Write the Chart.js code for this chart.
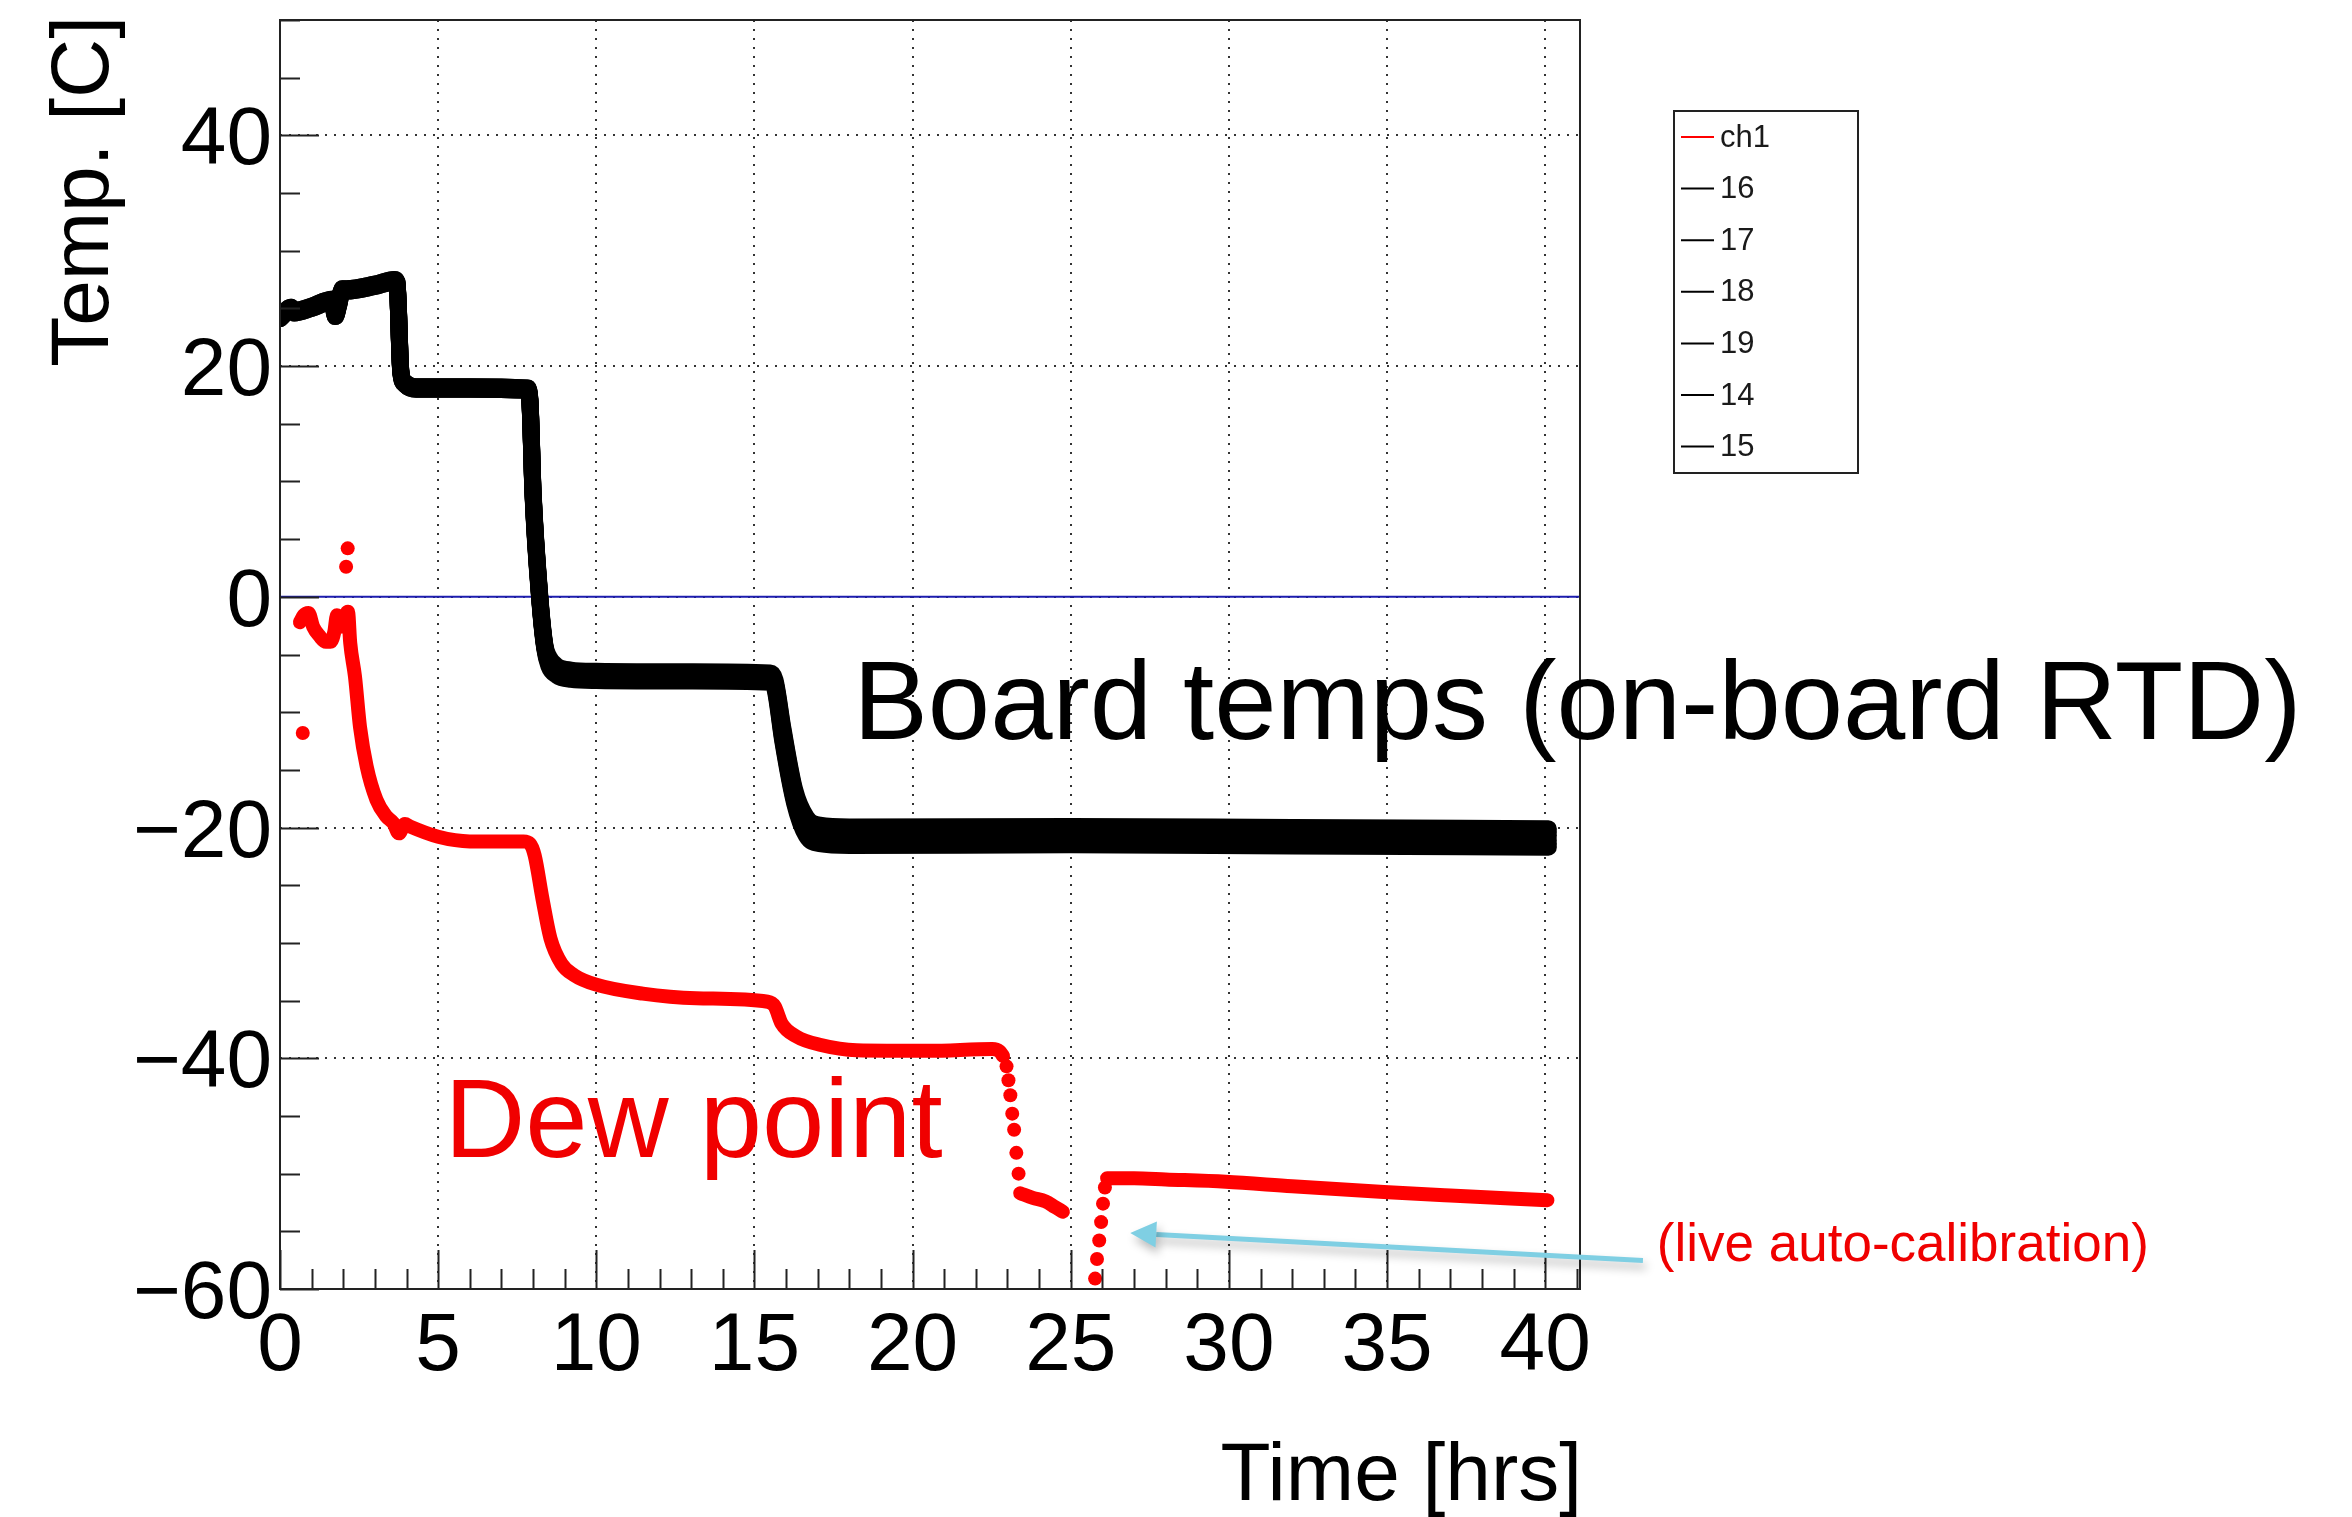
<!DOCTYPE html>
<html>
<head>
<meta charset="utf-8">
<script src="https://cdn.jsdelivr.net/npm/chart.js@4/dist/chart.umd.min.js"></script>
<style>
  html, body { margin: 0; padding: 0; background: #fff; }
  #wrap { width: 2352px; height: 1517px; position: relative; }
</style>
</head>
<body>
<div id="wrap"><canvas id="c"></canvas></div>
<script>
const FONT = '"Liberation Sans", Arial, Helvetica, sans-serif';

// Axis tick values
const xTicks = [0, 5, 10, 15, 20, 25, 30, 35, 40];
const yTicks = [-60, -40, -20, 0, 20, 40];

// Board RTD channels: common sample times [hrs] and readings [C]
const boardTime = [0, 0.35, 0.45, 1.0, 1.65, 1.75, 1.85, 1.97, 2.1, 3.0, 3.62, 3.7, 3.82, 3.95, 4.3, 6.0, 7.82, 7.9, 8.0, 8.21, 8.37, 8.5, 8.75, 9.2, 10.0, 13.0, 15.5, 15.65, 15.9, 16.27, 16.64, 17.06, 18.0, 25.0, 32.0, 40.1];
const ch16 = [24.3, 25.1, 24.8, 25.2, 25.8, 24.5, 25.4, 26.7, 26.7, 27.1, 27.5, 27.3, 19.6, 18.6, 18.2, 18.2, 18.1, 17.1, 9.2, 0.2, -4.1, -5.2, -6.0, -6.35, -6.45, -6.5, -6.6, -7.2, -11.4, -16.7, -19.1, -19.8, -19.95, -19.9, -20.0, -20.1];
const ch17 = [24.3, 25.1, 24.8, 25.2, 25.8, 24.5, 25.4, 26.7, 26.7, 27.1, 27.5, 27.3, 19.6, 18.6, 18.2, 18.2, 18.1, 17.1, 9.1, 0.1, -4.2, -5.4, -6.2, -6.55, -6.65, -6.7, -6.8, -7.4, -11.6, -16.9, -19.4, -20.1, -20.25, -20.2, -20.3, -20.4];
const ch18 = [24.2, 25.0, 24.7, 25.1, 25.7, 24.4, 25.3, 26.6, 26.6, 27.0, 27.4, 27.2, 19.5, 18.5, 18.1, 18.1, 18.0, 17.0, 9.0, 0.0, -4.3, -5.5, -6.3, -6.65, -6.75, -6.8, -6.9, -7.5, -11.9, -17.2, -19.7, -20.4, -20.55, -20.5, -20.6, -20.7];
const ch19 = [24.2, 25.0, 24.7, 25.1, 25.7, 24.4, 25.3, 26.6, 26.6, 27.0, 27.4, 27.2, 19.5, 18.5, 18.1, 18.1, 18.0, 17.0, 9.0, 0.0, -4.3, -5.7, -6.5, -6.85, -6.95, -7.0, -7.1, -7.7, -12.1, -17.4, -20.1, -20.8, -20.95, -20.9, -21.0, -21.1];
const ch14 = [24.1, 24.9, 24.6, 25.0, 25.6, 24.3, 25.2, 26.5, 26.5, 26.9, 27.3, 27.1, 19.4, 18.4, 18.0, 18.0, 17.9, 16.9, 8.9, -0.1, -4.4, -5.8, -6.6, -6.95, -7.05, -7.1, -7.2, -7.8, -12.4, -17.7, -20.4, -21.1, -21.25, -21.2, -21.3, -21.4];
const ch15 = [24.1, 24.9, 24.6, 25.0, 25.6, 24.3, 25.2, 26.5, 26.5, 26.9, 27.3, 27.1, 19.4, 18.4, 18.0, 18.0, 17.9, 16.9, 8.8, -0.2, -4.5, -6.0, -6.8, -7.15, -7.25, -7.3, -7.4, -8.0, -12.6, -17.9, -20.7, -21.4, -21.55, -21.5, -21.6, -21.7];
const boardNames = ['16', '17', '18', '19', '14', '15'];
const boardSeries = [ch16, ch17, ch18, ch19, ch14, ch15];

// Dew point (ch1) continuous trace; null = logging gap
const dewTime = [0.63, 0.75, 0.9, 1.05, 1.25, 1.45, 1.6, 1.72, 1.8, 1.9, 2.0, 2.15, 2.22, 2.37, 2.53, 2.74, 3.05, 3.35, 3.58, 3.76, 3.95, 4.1, 5.0, 6.0, 7.7, 7.9, 8.05, 8.3, 8.55, 8.9, 9.3, 9.97, 11.47, 13.16, 15.42, 15.64, 15.86, 16.32, 17.1, 18.23, 20.5, 22.52, 22.75, 22.86, 23.1, 23.4, 23.8, 24.2, 24.5, 24.75, 25.5, 26.15, 27.0, 28.0, 29.9, 32.0, 34.9, 37.0, 40.07];
const dewTemp = [-2.2, -1.6, -1.4, -2.6, -3.4, -3.9, -3.9, -3.0, -1.6, -2.6, -2.0, -1.3, -4.0, -6.9, -11.3, -14.7, -17.6, -19.0, -19.6, -20.5, -19.7, -19.9, -20.8, -21.2, -21.2, -21.4, -22.4, -26.2, -29.6, -31.8, -32.8, -33.6, -34.4, -34.8, -35.1, -35.5, -37.0, -38.1, -38.85, -39.3, -39.35, -39.2, -39.4, -39.8, null, -51.7, -52.1, -52.4, -52.9, -53.3, null, -50.4, -50.4, -50.5, -50.7, -51.1, -51.6, -51.9, -52.3];

// Isolated ch1 readings: spikes at start-up and the fast steps around the calibration
const dewDotTime = [0.72, 2.09, 2.14, 22.97, 23.03, 23.09, 23.15, 23.21, 23.28, 23.35, 25.77, 25.83, 25.9, 25.96, 26.02, 26.08];
const dewDotTemp = [-11.8, 2.6, 4.2, -40.7, -41.9, -43.2, -44.8, -46.2, -48.2, -50.0, -59.1, -57.4, -55.8, -54.2, -52.6, -51.2];

const RED = '#ff0000';

const datasets = [
  {
    label: 'ch1', inLegend: true,
    data: dewTime.map((t, i) => ({ x: t, y: dewTemp[i] })),
    borderColor: RED, backgroundColor: RED, borderWidth: 14,
    borderCapStyle: 'round', borderJoinStyle: 'round',
    pointRadius: 0, cubicInterpolationMode: 'monotone', spanGaps: false
  },
  {
    label: 'ch1', inLegend: false,
    data: dewDotTime.map((t, i) => ({ x: t, y: dewDotTemp[i] })),
    showLine: false, borderColor: RED, backgroundColor: RED,
    pointRadius: 7, pointBorderWidth: 0
  }
];
boardNames.forEach((name, k) => {
  datasets.push({
    label: name, inLegend: true,
    data: boardTime.map((t, i) => ({ x: t, y: boardSeries[k][i] })),
    borderColor: '#000', backgroundColor: '#000', borderWidth: 17,
    borderCapStyle: 'round', borderJoinStyle: 'round',
    pointRadius: 0, cubicInterpolationMode: 'monotone'
  });
});

const minusSign = v => (v < 0 ? '\u2212' + Math.abs(v) : String(v));

// ROOT-style frame, inward ticks, labels, annotations and legend
const rootStyle = {
  id: 'rootStyle',
  beforeDatasetsDraw(chart) {
    const { ctx, chartArea: a, scales: { y } } = chart;
    const y0 = y.getPixelForValue(0);
    ctx.save();
    ctx.strokeStyle = '#1c1cae';
    ctx.lineWidth = 2;
    ctx.beginPath();
    ctx.moveTo(a.left, y0);
    ctx.lineTo(a.right, y0);
    ctx.stroke();
    ctx.restore();
  },
  afterDatasetsDraw(chart) {
    const { ctx, chartArea: a, scales: { x, y } } = chart;
    ctx.save();
    ctx.strokeStyle = '#222';
    ctx.lineWidth = 2;
    ctx.strokeRect(a.left, a.top, a.right - a.left, a.bottom - a.top);
    ctx.beginPath();
    // x ticks: major every 5, minor every 1
    for (let v = Math.ceil(x.min); v <= x.max; v += 1) {
      const px = Math.round(x.getPixelForValue(v)) + 0.5;
      const len = xTicks.includes(v) ? 39 : 20;
      ctx.moveTo(px, a.bottom);
      ctx.lineTo(px, a.bottom - len);
    }
    // y ticks: major every 20, minor every 5
    for (let v = y.min; v <= y.max; v += 5) {
      const py = Math.round(y.getPixelForValue(v)) + 0.5;
      const len = yTicks.includes(v) ? 39 : 20;
      ctx.moveTo(a.left, py);
      ctx.lineTo(a.left + len, py);
    }
    ctx.stroke();

    // tick labels
    ctx.fillStyle = '#000';
    ctx.font = '82px ' + FONT;
    ctx.textBaseline = 'alphabetic';
    ctx.textAlign = 'right';
    yTicks.forEach(v => ctx.fillText(minusSign(v), a.left - 8, y.getPixelForValue(v) + 29));
    ctx.textAlign = 'center';
    xTicks.forEach(v => ctx.fillText(minusSign(v), x.getPixelForValue(v), a.bottom + 81));

    // axis titles
    ctx.font = '82px ' + FONT;
    ctx.textAlign = 'right';
    ctx.fillText('Time [hrs]', a.right + 2, a.bottom + 211);
    ctx.save();
    ctx.translate(a.left - 172, a.top - 4);
    ctx.rotate(-Math.PI / 2);
    ctx.textAlign = 'right';
    ctx.fillText('Temp. [C]', 0, 0);
    ctx.restore();
    ctx.restore();
  },
  afterDraw(chart) {
    const { ctx, chartArea: a, scales: { x, y } } = chart;
    ctx.save();
    ctx.textBaseline = 'alphabetic';
    ctx.textAlign = 'left';

    // legend box
    const bx = a.right + 94, by = a.top + 91, bw = 184, bh = 362;
    ctx.fillStyle = '#fff';
    ctx.fillRect(bx, by, bw, bh);
    ctx.strokeStyle = '#222';
    ctx.lineWidth = 2;
    ctx.strokeRect(bx, by, bw, bh);
    ctx.font = '31px ' + FONT;
    ctx.textBaseline = 'middle';
    chart.data.datasets.filter(d => d.inLegend).forEach((d, i) => {
      const ry = by + 26 + i * 51.6;
      ctx.strokeStyle = d.borderColor;
      ctx.lineWidth = 2;
      ctx.beginPath();
      ctx.moveTo(bx + 7, ry);
      ctx.lineTo(bx + 40, ry);
      ctx.stroke();
      ctx.fillStyle = '#1a1a1a';
      ctx.fillText(d.label, bx + 46, ry + 1);
    });
    ctx.textBaseline = 'alphabetic';

    // annotations
    ctx.font = '112px ' + FONT;
    ctx.fillStyle = '#000';
    ctx.fillText('Board temps (on-board RTD)', x.getPixelForValue(18.12), y.getPixelForValue(-12.3));
    ctx.fillStyle = '#f00000';
    ctx.fillText('Dew point', x.getPixelForValue(5.2), y.getPixelForValue(-48.6));
    ctx.font = '53px ' + FONT;
    ctx.fillText('(live auto-calibration)', x.getPixelForValue(43.53), y.getPixelForValue(-57.53));

    // arrow pointing at the calibration step
    const tx = x.getPixelForValue(26.88), ty = y.getPixelForValue(-55.15);
    const sx = x.getPixelForValue(43.09), sy = y.getPixelForValue(-57.53);
    const ang = Math.atan2(ty - sy, tx - sx);
    const headLen = 26, headHalf = 13;
    const hx = tx - headLen * Math.cos(ang), hy = ty - headLen * Math.sin(ang);
    ctx.shadowColor = 'rgba(0,0,0,0.28)';
    ctx.shadowBlur = 10;
    ctx.shadowOffsetX = 3;
    ctx.shadowOffsetY = 6;
    ctx.strokeStyle = '#7fcfe3';
    ctx.fillStyle = '#7fcfe3';
    ctx.lineWidth = 5;
    ctx.beginPath();
    ctx.moveTo(sx, sy);
    ctx.lineTo(hx, hy);
    ctx.stroke();
    ctx.beginPath();
    ctx.moveTo(tx, ty);
    ctx.lineTo(hx + headHalf * Math.sin(ang), hy - headHalf * Math.cos(ang));
    ctx.lineTo(hx - headHalf * Math.sin(ang), hy + headHalf * Math.cos(ang));
    ctx.closePath();
    ctx.fill();
    ctx.restore();
  }
};

new Chart(document.getElementById('c'), {
  type: 'line',
  data: { datasets },
  options: {
    responsive: true,
    maintainAspectRatio: false,
    animation: false,
    devicePixelRatio: 1,
    layout: { padding: { left: 280, top: 20, right: 772, bottom: 228 } },
    plugins: { legend: { display: false }, tooltip: { enabled: false } },
    scales: {
      x: {
        type: 'linear', min: 0, max: 41.1,
        afterBuildTicks: s => { s.ticks = xTicks.map(v => ({ value: v })); },
        ticks: { display: false },
        grid: { color: '#333', lineWidth: 2, drawTicks: false },
        border: { display: false, dash: [2, 7] }
      },
      y: {
        type: 'linear', min: -60, max: 50,
        afterBuildTicks: s => { s.ticks = yTicks.map(v => ({ value: v })); },
        ticks: { display: false },
        grid: { color: '#333', lineWidth: 2, drawTicks: false },
        border: { display: false, dash: [2, 7] }
      }
    }
  },
  plugins: [rootStyle]
});
</script>
</body>
</html>
